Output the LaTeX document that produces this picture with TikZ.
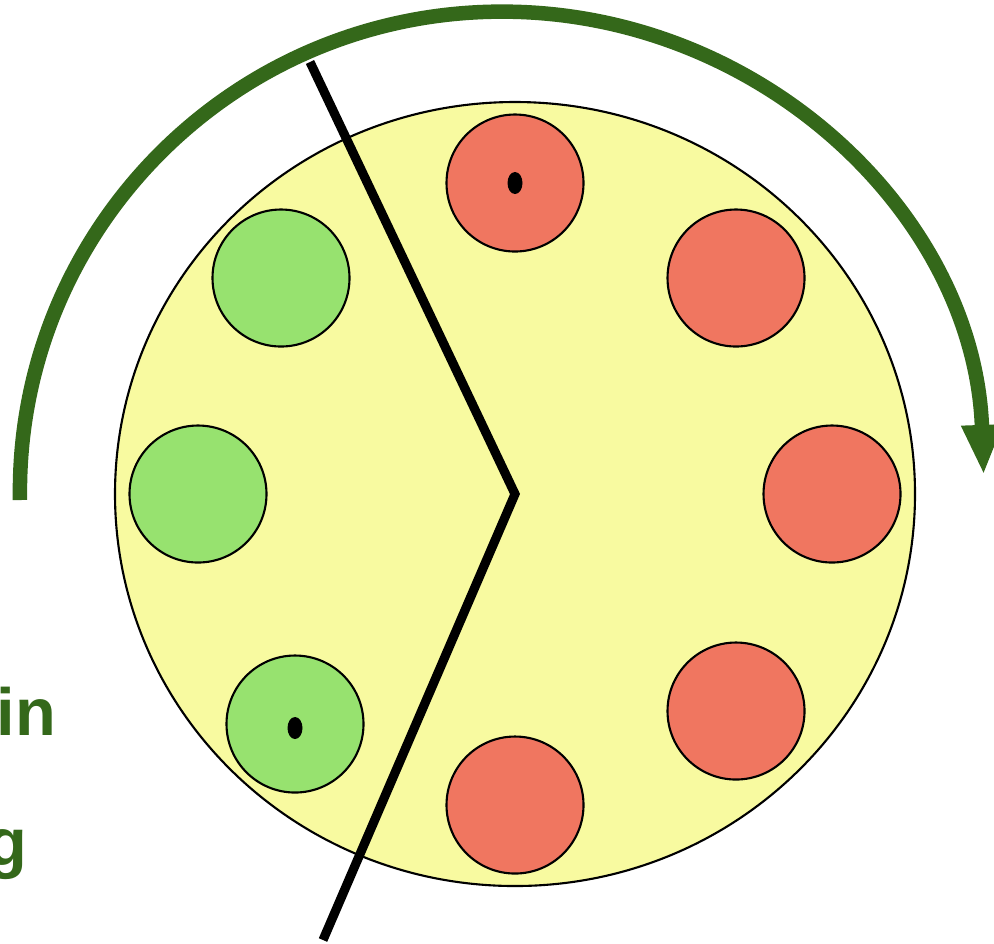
\documentclass[tikz,border=0pt]{standalone}
\usepackage{fontspec}
\setmainfont{Liberation Sans}
\usetikzlibrary{arrows.meta, shapes.geometric}
\definecolor{spin}{RGB}{52, 104, 26}
\definecolor{disc}{RGB}{248, 250, 160}
\definecolor{hot}{RGB}{240, 118, 96}
\definecolor{cool}{RGB}{151, 226, 111}

\begin{document}
\begin{tikzpicture}[
    slot/.style={circle, draw=black, line width=0.6pt, minimum size=1.37cm, inner sep=0pt},
    pin/.style={ellipse, fill=black, minimum width=0.15cm, minimum height=0.22cm, inner sep=0pt},
    word/.style={font=\fontsize{19}{22}\selectfont\bfseries, text=spin, inner sep=0pt}
  ]
  \useasboundingbox (0,0) rectangle (9.94,-9.43);

  % Disc
  \node[ellipse, draw=black, line width=0.6pt, fill=disc, minimum width=8cm, minimum height=7.84cm, inner sep=0pt] (disc) at (5.15,-4.94) {};

  % Red slots
  \foreach \i/\x/\y in {1/5.15/1.83, 2/7.36/2.78, 3/8.32/4.94, 4/7.36/7.11, 5/5.15/8.05} {
    \node[slot, fill=hot] (r\i) at (\x,-\y) {};
  }

  % Green slots
  \foreach \i/\x/\y in {1/2.81/2.78, 2/1.98/4.94, 3/2.95/7.24} {
    \node[slot, fill=cool] (g\i) at (\x,-\y) {};
  }

  % Marks
  \node[pin] (p1) at (r1) {};
  \node[pin] (p2) at ([yshift=-0.04cm]g3.center) {};

  % Split line
  \coordinate (top) at (3.10,-0.62);
  \coordinate (bot) at (3.23,-9.40);
  \draw[line width=2.6pt] (top) -- (disc.center) -- (bot);

  % Rotation arrow
  \draw[draw=spin, line width=0.145cm, -{Triangle[width=0.38cm, length=0.5cm]}]
    (0.2,-5.0) arc[start angle=181, end angle=2, x radius=4.82cm, y radius=4.8cm];

  % Labels
  \node[word, anchor=base east] (lin) at (0.57,-7.35) {in};
  \node[word, anchor=base east] (lg) at (0.28,-8.65) {g};

\end{tikzpicture}
\end{document}
